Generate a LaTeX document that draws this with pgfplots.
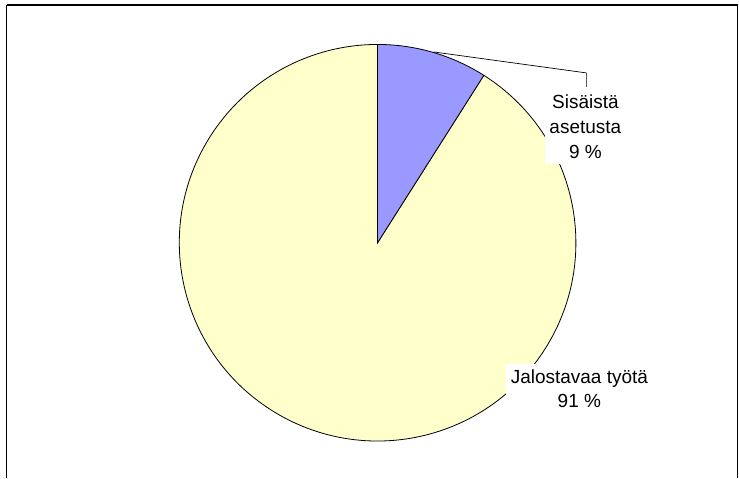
\documentclass[border=0pt]{standalone}
\usepackage{pgfplots}
\pgfplotsset{compat=1.18}
\usepackage{pgfplotstable}
\usepackage{fontspec}
\setmainfont{Liberation Sans}
\definecolor{pieblue}{HTML}{9999FF}
\definecolor{pieyellow}{HTML}{FFFFCC}

\pgfplotstableread{
label value
Sisäistä 9
Jalostavaa 91
}\piedata
\pgfplotstablegetelem{0}{value}\of\piedata \let\va\pgfplotsretval
\pgfplotstablegetelem{1}{value}\of\piedata \let\vb\pgfplotsretval
\pgfmathsetmacro\angA{90-3.6*\va}
\pgfmathsetmacro\angB{\angA-3.6*\vb}
\pgfmathsetmacro\R{198.5}
\pgfmathsetmacro\bx{378+\R*cos(\angA)}
\pgfmathsetmacro\by{236+\R*sin(\angA)}

\begin{document}
\begin{tikzpicture}
\begin{axis}[
  x=1pt, y=1pt,
  xmin=0, xmax=739, ymin=0, ymax=479,
  scale only axis, hide axis, clip=false,
]
\path (axis cs:0,0) rectangle (axis cs:739,479);
% frame
\draw[black, line width=1.6pt] (axis cs:7,474) -- (axis cs:739,474);
\draw[black, line width=1pt] (axis cs:7,474) -- (axis cs:7,0);
\draw[black, line width=1pt] (axis cs:738.4,474) -- (axis cs:738.4,0);
% slices
\filldraw[fill=pieyellow, draw=black, line width=0.8pt]
  (axis cs:378,236) -- (axis cs:\bx,\by) arc[start angle=\angA, end angle=\angB, radius=\R pt] -- cycle;
\filldraw[fill=pieblue, draw=black, line width=0.8pt]
  (axis cs:378,236) -- (axis cs:378,434.5) arc[start angle=90, end angle=\angA, radius=\R pt] -- cycle;
% leader line
\draw[black, line width=0.7pt] (axis cs:434,427) -- (axis cs:587,406) -- (axis cs:587,392);
% labels
\node[fill=white, align=center, inner sep=5pt, font=\fontsize{19}{25}\selectfont]
  at (axis cs:586,352) {Sisäistä\\asetusta\\9 \%};
\node[fill=white, align=center, inner sep=5pt, font=\fontsize{19}{24.5}\selectfont]
  at (axis cs:580,90) {Jalostavaa työtä\\91 \%};
\end{axis}
\end{tikzpicture}
\end{document}
